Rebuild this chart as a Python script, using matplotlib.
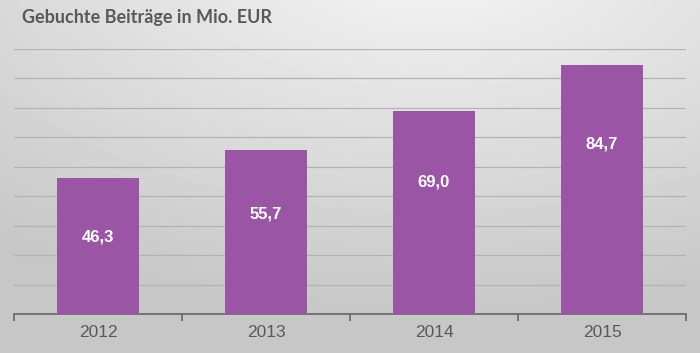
import numpy as np
import matplotlib
matplotlib.use("Agg")
import matplotlib.pyplot as plt

years = ["2012", "2013", "2014", "2015"]
beitraege = [46.3, 55.7, 69.0, 84.7]
labels = ["46,3", "55,7", "69,0", "84,7"]
title = "Gebuchte Beiträge in Mio. EUR"

bar_color = "#9b55a5"
text_gray = "#595959"

fig = plt.figure(figsize=(7, 3.53), dpi=100)

# gray radial-ish background gradient
bg = fig.add_axes([0, 0, 1, 1], zorder=0)
yy, xx = np.mgrid[0:353, 0:700]
d = np.sqrt(((xx - 430) / 700.0) ** 2 + ((yy + 40) / 353.0) ** 2)
shade = np.clip(0.96 - 0.18 * d, 0.78, 0.96)
bg.imshow(shade, cmap="gray", vmin=0, vmax=1, aspect="auto",
          extent=[0, 1, 0, 1], origin="upper")
bg.axis("off")

ax = fig.add_axes([14 / 700, 39 / 353, 672 / 700, 265 / 353], zorder=1)
ax.patch.set_alpha(0)
x = np.arange(len(years))
ax.bar(x, beitraege, width=0.49, color=bar_color, zorder=3)
ax.set_xlim(-0.5, 3.5)
ax.set_ylim(0, 90)
ax.set_yticks(np.arange(0, 91, 10))
ax.yaxis.grid(True, color="#b3b3b3", linewidth=0.9)
ax.tick_params(axis="y", left=False, labelleft=False)
for s in ["top", "right", "left"]:
    ax.spines[s].set_visible(False)
ax.spines["bottom"].set_color("#666666")
ax.spines["bottom"].set_linewidth(1.2)
ax.set_xticks([-0.5, 0.5, 1.5, 2.5, 3.5])
ax.set_xticklabels([])
ax.tick_params(axis="x", length=5, width=1.2, color="#666666")
ax.set_xticks(x, minor=True)
ax.set_xticklabels(years, minor=True, fontsize=12.5, color=text_gray,
                   family="Liberation Sans")
ax.tick_params(axis="x", which="minor", length=0, pad=8)

for xi, v, lab in zip(x, beitraege, labels):
    ax.text(xi, 0.83 * v - 12.4, lab, ha="center", va="center", color="white",
            fontsize=12, fontweight="bold", family="Liberation Sans", zorder=4)

fig.text(22 / 700, 1 - 18 / 353, title, ha="left", va="center",
         fontsize=13, fontweight="bold", color=text_gray, family="Lato")

fig.savefig("out.png", dpi=100)
